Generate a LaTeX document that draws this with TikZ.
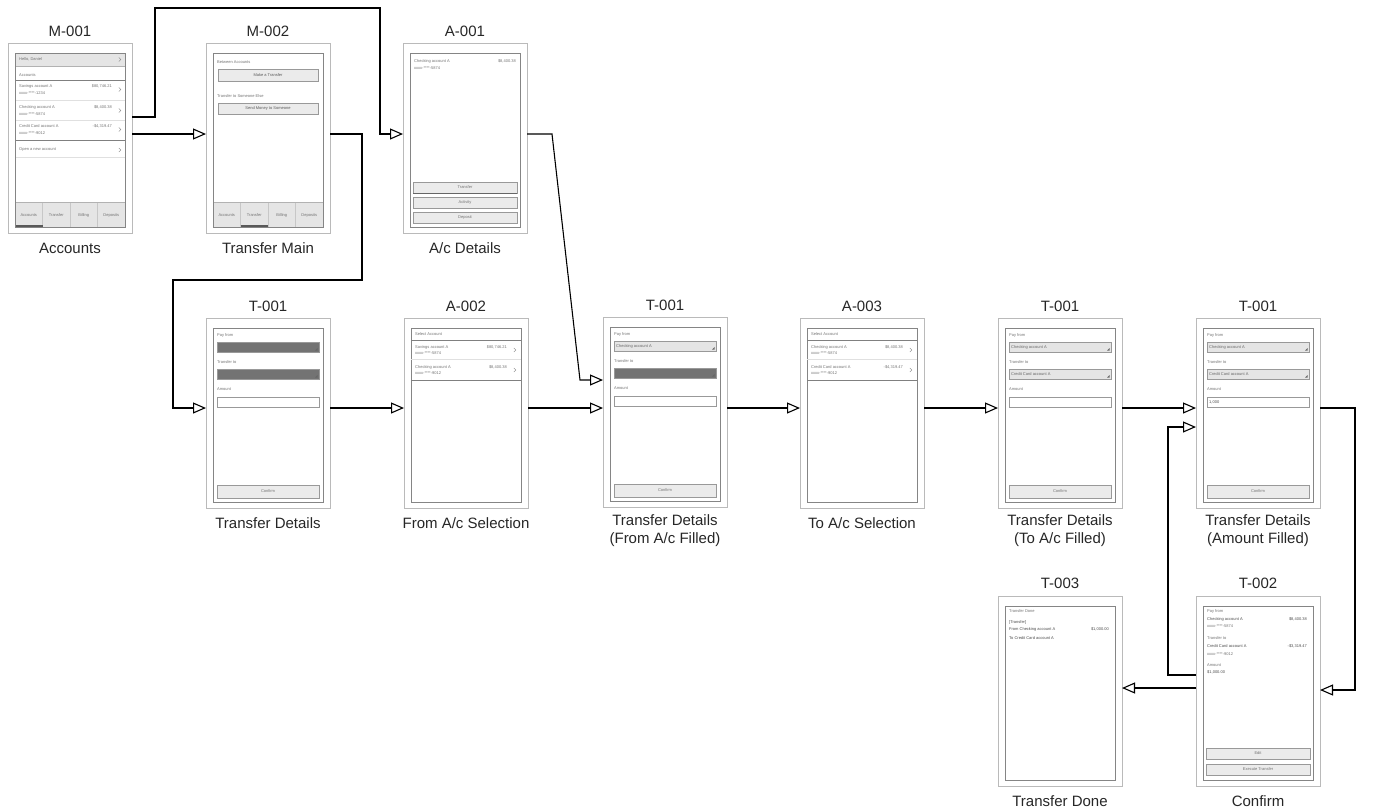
\documentclass[tikz,border=0pt]{standalone}
\usepackage{fontspec}
\setmainfont{Liberation Sans}
\usetikzlibrary{arrows.meta,calc}

\tikzset{
  frame/.style={draw=black!27, line width=0.9pt, fill=white, minimum width=124pt, minimum height=190pt, inner sep=0pt, outer sep=0pt, anchor=north west},
  innerbox/.style={draw=black!48, line width=0.7pt},
  title/.style={font=\fontsize{15}{17}\selectfont, text=black!85},
  caption/.style={font=\fontsize{15}{18}\selectfont, align=center, text=black!85},
  tiny/.style={font=\fontsize{4}{4}\selectfont, text=black!55, inner sep=0pt, anchor=west},
  tinyr/.style={tiny, anchor=east},
  tinyc/.style={tiny, anchor=center},
  btn/.style={draw=black!40, fill=black!8, line width=0.5pt},
  sep/.style={draw=black!12, line width=0.5pt},
  dark/.style={draw=black!50, line width=0.5pt},
  conn/.style={draw=black, line width=1.1pt, -{Triangle[open, length=13pt, width=11pt]}},
}

\newcommand{\chev}[2]{\draw[black!50,line width=0.4pt] (#1-1.2,#2-2) -- (#1+0.8,#2) -- (#1-1.2,#2+2);}
\newcommand{\inbox}{\draw[innerbox] (7,10) rectangle (117,184);}
\newcommand{\tabbar}[1]{%
  \fill[black!10] (7,159) rectangle (117,184);
  \draw[black!22, line width=0.4pt] (34.5,159)--(34.5,184) (62,159)--(62,184) (89.5,159)--(89.5,184);
  \draw[black!30, line width=0.4pt] (7,159)--(117,159);
  \node[tinyc] at (20.75,172) {Accounts};
  \node[tinyc] at (48.25,172) {Transfer};
  \node[tinyc] at (75.75,172) {Billing};
  \node[tinyc] at (103.25,172) {Deposits};
  \draw[black!65, line width=1.5pt] (#1,182.8) -- ++(27.5,0);
  \inbox
}
\newcommand{\dropdown}[3]{%
  \draw[draw=black!40, fill=#2, line width=0.5pt] (11,#1) rectangle (113,#1+10);
  \fill[black!60] (111.5,#1+8.5) -- (111.5,#1+6) -- (109,#1+8.5) -- cycle;
  \node[tiny, text=black!60] at (13,#1+5) {#3};
}
\newcommand{\tform}[5]{%
  \inbox
  \node[tiny] at (11,17) {Pay from};
  \dropdown{24}{#1}{#2}
  \node[tiny] at (11,44) {Transfer to};
  \dropdown{51}{#3}{#4}
  \node[tiny] at (11,71) {Amount};
  \draw[draw=black!40, fill=white, line width=0.5pt] (11,79) rectangle (113,89);
  \node[tiny, text=black!70] at (13,84) {#5};
  \draw[btn] (11,167) rectangle (113,180);
  \node[tinyc] at (62,173.5) {Confirm};
}
\newcommand{\alist}[4]{%
  \inbox
  \node[tiny] at (11,16) {Select Account};
  \draw[dark] (7,22)--(117,22);
  \node[tiny] at (11,29) {#1}; \node[tinyr] at (103,29) {#2}; \node[tiny] at (11,35) {xxxx-****-5874}; \chev{111}{32}
  \draw[sep] (7,41)--(117,41);
  \node[tiny] at (11,49) {#3}; \node[tinyr] at (103,49) {#4}; \node[tiny] at (11,55) {xxxx-****-9012}; \chev{111}{52}
  \draw[dark] (7,62)--(117,62);
}

\begin{document}
\begin{tikzpicture}[x=1pt,y=-1pt]
\useasboundingbox (0,0) rectangle (1378,809);

% ---------- frames ----------
\node[frame] (m1) at (8,43) {};
\node[frame] (m2) at (206,43) {};
\node[frame] (a1) at (403,43) {};
\node[frame] (t1) at (206,318) {};
\node[frame] (a2) at (404,318) {};
\node[frame] (t2) at (603,317) {};
\node[frame] (a3) at (800,318) {};
\node[frame] (t3) at (998,318) {};
\node[frame] (t4) at (1196,318) {};
\node[frame] (dn) at (998,596) {};
\node[frame] (cf) at (1196,596) {};

% ---------- titles ----------
\node[title] (m1t) at ([yshift=12pt]m1.north) {M-001};
\node[title] (m2t) at ([yshift=12pt]m2.north) {M-002};
\node[title] (a1t) at ([yshift=12pt]a1.north) {A-001};
\node[title] (t1t) at ([yshift=12pt]t1.north) {T-001};
\node[title] (a2t) at ([yshift=12pt]a2.north) {A-002};
\node[title] (t2t) at ([yshift=12pt]t2.north) {T-001};
\node[title] (a3t) at ([yshift=12pt]a3.north) {A-003};
\node[title] (t3t) at ([yshift=12pt]t3.north) {T-001};
\node[title] (t4t) at ([yshift=12pt]t4.north) {T-001};
\node[title] (dnt) at ([yshift=13pt]dn.north) {T-003};
\node[title] (cft) at ([yshift=13pt]cf.north) {T-002};

% ---------- captions ----------
\node[caption] (m1c) at ([yshift=-15pt]m1.south) {Accounts};
\node[caption] (m2c) at ([yshift=-15pt]m2.south) {Transfer Main};
\node[caption] (a1c) at ([yshift=-15pt]a1.south) {A/c Details};
\node[caption] (t1c) at ([yshift=-15pt]t1.south) {Transfer Details};
\node[caption] (a2c) at ([yshift=-15pt]a2.south) {From A/c Selection};
\node[caption] (t2c) at ([yshift=-24pt]t2.south) {Transfer Details\\(From A/c Filled)};
\node[caption] (a3c) at ([yshift=-15pt]a3.south) {To A/c Selection};
\node[caption] (t3c) at ([yshift=-23pt]t3.south) {Transfer Details\\(To A/c Filled)};
\node[caption] (t4c) at ([yshift=-23pt]t4.south) {Transfer Details\\(Amount Filled)};
\node[caption] (dnc) at ([yshift=-15pt]dn.south) {Transfer Done};
\node[caption] (cfc) at ([yshift=-15pt]cf.south) {Confirm};

% ---------- M-001 ----------
\begin{scope}[shift={(8,43)}]
  \fill[black!10] (7,10) rectangle (117,23);
  \draw[black!30, line width=0.4pt] (7,23)--(117,23);
  \node[tiny] at (11,16.5) {Hello, Daniel}; \chev{112}{16.5}
  \node[tiny] at (11,32) {Accounts};
  \draw[dark] (7,37)--(117,37);
  \node[tiny] at (11,43) {Savings account A}; \node[tinyr] at (104,43) {\$80,746.21};
  \node[tiny] at (11,50) {xxxx-****-1234}; \chev{112}{46.5}
  \draw[sep] (7,57)--(117,57);
  \node[tiny] at (11,64) {Checking account A}; \node[tinyr] at (104,64) {\$8,400.38};
  \node[tiny] at (11,71) {xxxx-****-5874}; \chev{112}{67.5}
  \draw[sep] (7,77)--(117,77);
  \node[tiny] at (11,83) {Credit Card account A}; \node[tinyr] at (104,83) {-\$4,319.47};
  \node[tiny] at (11,90) {xxxx-****-9012}; \chev{112}{86.5}
  \draw[dark] (7,97)--(117,97);
  \node[tiny] at (11,107) {Open a new account}; \chev{112}{107}
  \draw[sep] (7,114)--(117,114);
  \tabbar{7}
\end{scope}

% ---------- M-002 ----------
\begin{scope}[shift={(206,43)}]
  \node[tiny] at (11,19) {Between Accounts};
  \draw[btn] (12,26) rectangle (112,38);
  \node[tinyc, text=black!65] at (62,32) {Make a Transfer};
  \node[tiny] at (11,53) {Transfer to Someone Else};
  \draw[btn] (12,60) rectangle (112,71);
  \node[tinyc, text=black!65] at (62,65.5) {Send Money to Someone};
  \tabbar{34.5}
\end{scope}

% ---------- A-001 ----------
\begin{scope}[shift={(403,43)}]
  \inbox
  \node[tiny] at (11,18) {Checking account A}; \node[tinyr] at (113,18) {\$8,400.38};
  \node[tiny] at (11,25) {xxxx-****-5874};
  \draw[btn] (10,139) rectangle (114,150);
  \draw[black!60, line width=0.8pt] (10,150)--(114,150);
  \node[tinyc] at (62,144.5) {Transfer};
  \draw[btn] (10,154) rectangle (114,165);
  \node[tinyc] at (62,159.5) {Activity};
  \draw[btn] (10,169) rectangle (114,180);
  \node[tinyc] at (62,174.5) {Deposit};
\end{scope}

% ---------- T-001 forms ----------
\begin{scope}[shift={(206,318)}]
  \tform{black!55}{}{black!55}{}{}
\end{scope}
\begin{scope}[shift={(603,317)}]
  \tform{black!10}{Checking account A}{black!55}{}{}
\end{scope}
\begin{scope}[shift={(998,318)}]
  \tform{black!10}{Checking account A}{black!10}{Credit Card account A}{}
\end{scope}
\begin{scope}[shift={(1196,318)}]
  \tform{black!10}{Checking account A}{black!10}{Credit Card account A}{1,000}
\end{scope}

% ---------- A-002 / A-003 ----------
\begin{scope}[shift={(404,318)}]
  \alist{Savings account A}{\$80,746.21}{Checking account A}{\$8,400.38}
\end{scope}
\begin{scope}[shift={(800,318)}]
  \alist{Checking account A}{\$8,400.38}{Credit Card account A}{-\$4,319.47}
\end{scope}

% ---------- T-003 ----------
\begin{scope}[shift={(998,596)}]
  \inbox
  \node[tiny] at (11,15) {Transfer Done};
  \node[tiny, text=black!70] at (11,26) {[Transfer]};
  \node[tiny, text=black!70] at (11,33) {From Checking account A}; \node[tinyr, text=black!70] at (111,33) {\$1,000.00};
  \node[tiny, text=black!70] at (11,42) {To Credit Card account A};
\end{scope}

% ---------- T-002 ----------
\begin{scope}[shift={(1196,596)}]
  \inbox
  \node[tiny] at (11,15) {Pay from};
  \node[tiny, text=black!70] at (11,23) {Checking account A}; \node[tinyr, text=black!70] at (111,23) {\$8,400.38};
  \node[tiny] at (11,30) {xxxx-****-5874};
  \node[tiny] at (11,42) {Transfer to};
  \node[tiny, text=black!70] at (11,50) {Credit Card account A}; \node[tinyr, text=black!70] at (111,50) {-\$3,319.47};
  \node[tiny] at (11,58) {xxxx-****-9012};
  \node[tiny] at (11,69) {Amount};
  \node[tiny, text=black!70] at (11,76) {\$1,000.00};
  \draw[btn] (10,152) rectangle (114,163);
  \node[tinyc] at (62,157.5) {Edit};
  \draw[btn] (10,168) rectangle (114,179);
  \node[tinyc] at (62,173.5) {Execute Transfer};
\end{scope}

% ---------- connectors ----------
\coordinate (ya) at (0,134);
\coordinate (yb) at (0,117);
\coordinate (yr) at (0,408);
\coordinate (yf) at (0,380);
\coordinate (yg) at (0,427);
\coordinate (yc) at (0,690);
\coordinate (yd) at (0,675);
\coordinate (ye) at (0,688);

\draw[conn] (m1.east |- yb) -| (155,8) -| (380,134) -- (a1.west |- ya);
\draw[conn] (m1.east |- ya) -- (m2.west |- ya);
\draw[conn] (m2.east |- ya) -| (362,280) -| (173,408) -- (t1.west |- yr);
\draw[conn] (a1.east |- ya) -- (552,134) -- (580,380) -- (t2.west |- yf);
\draw[conn] (t1.east |- yr) -- (a2.west |- yr);
\draw[conn] (a2.east |- yr) -- (t2.west |- yr);
\draw[conn] (t2.east |- yr) -- (a3.west |- yr);
\draw[conn] (a3.east |- yr) -- (t3.west |- yr);
\draw[conn] (t3.east |- yr) -- (t4.west |- yr);
\draw[conn] (t4.east |- yr) -| (1355,690) -- (cf.east |- yc);
\draw[conn] (cf.west |- yd) -| (1168,427) -- (t4.west |- yg);
\draw[conn] (cf.west |- ye) -- (dn.east |- ye);
\end{tikzpicture}
\end{document}
